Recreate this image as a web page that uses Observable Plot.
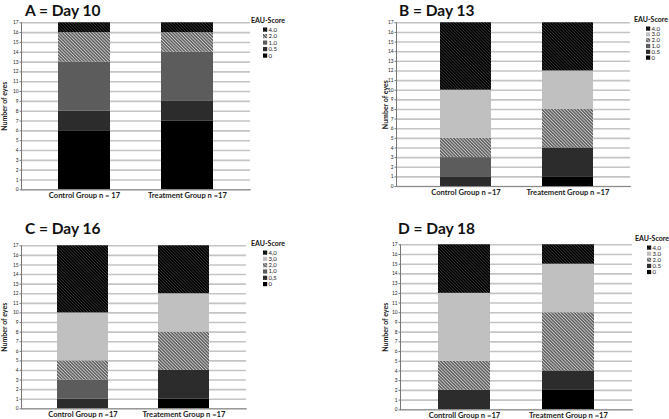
<!DOCTYPE html>
<html><head><meta charset="utf-8">
<script src="https://cdn.jsdelivr.net/npm/d3@7"></script>
<script src="https://cdn.jsdelivr.net/npm/@observablehq/plot@0.6"></script>
<style>
body{margin:0;background:#fff;font-family:Lato,"Open Sans",sans-serif;}
#root{position:relative;width:669px;height:419px;overflow:hidden;background:#fff;}
.panel{position:absolute;}
.title{position:absolute;font-weight:bold;font-size:15.5px;color:#111;white-space:nowrap;line-height:1.2;}
.legend{position:absolute;}
g[aria-label="y-axis label"] text{font-weight:bold;font-size:7px;}
</style></head><body>
<svg width="0" height="0" style="position:absolute">
<defs>
<pattern id="p40" patternUnits="userSpaceOnUse" width="2.2" height="2.2" patternTransform="rotate(45)">
<rect width="2.2" height="2.2" fill="#000"/>
<line x1="0" y1="1.1" x2="2.2" y2="1.1" stroke="#3c3c3c" stroke-width="0.7"/>
</pattern>
<pattern id="p20" patternUnits="userSpaceOnUse" width="2.3" height="2.3" patternTransform="rotate(45)">
<rect width="2.3" height="2.3" fill="#5a5a5a"/>
<line x1="0" y1="1.15" x2="2.3" y2="1.15" stroke="#d0d0d0" stroke-width="0.9"/>
</pattern>
</defs></svg>
<div id="root"></div>
<script>
// ---- data ----
const scores = ["0", "0.5", "1.0", "2.0", "3.0", "4.0"];
const yTicks = [0,1,2,3,4,5,6,7,8,9,10,11,12,13,14,15,16,17];

const titleA = "A = Day 10";
const groupsA = ["Control Group n = 17", "Treatment Group n =17"];
const controlA = [6, 2, 5, 3, 0, 1];
const treatmentA = [7, 2, 5, 2, 0, 1];
const legendScoresA = ["4.0", "2.0", "1.0", "0.5", "0"];
const legendLabelsA = ["4.0", "2.0", "1.0", "0.5", "0"];

const titleB = "B = Day 13";
const groupsB = ["Control Group n =17", "Treatement Group n =17"];
const controlB = [0, 1, 2, 2, 5, 7];
const treatmentB = [1, 3, 0, 4, 4, 5];
const legendScoresB = ["4.0", "3.0", "2.0", "1.0", "0.5", "0"];
const legendLabelsB = ["4.0", "3.0", "2.0", "1.0", "0.5", "0"];

const titleC = "C = Day 16";
const groupsC = ["Control Group n =17", "Treatement Group n =17"];
const controlC = [0, 1, 2, 2, 5, 7];
const treatmentC = [1, 3, 0, 4, 4, 5];
const legendScoresC = ["4.0", "3.0", "2.0", "1.0", "0.5", "0"];
const legendLabelsC = ["4,0", "3,0", "2,0", "1,0", "0,5", "0"];

const titleD = "D = Day 18";
const groupsD = ["Controll Group n =17", "Treatment Group n =17"];
const controlD = [0, 2, 0, 3, 7, 5];
const treatmentD = [2, 2, 0, 6, 5, 2];
const legendScoresD = ["4.0", "3.0", "2.0", "0.5", "0"];
const legendLabelsD = ["4.0", "3.0", "2.0", "0.5", "0"];

const fills = ["#000000", "#2c2c2c", "#5c5c5c", "url(#p20)", "#c0c0c0", "url(#p40)"];

// ---- layout ----
const panels = [
  {title: titleA, groups: groupsA, counts: [controlA, treatmentA], lScores: legendScoresA, lLabels: legendLabelsA,
   left: 0, top: 0, w: 335, h: 210, ml: 21, mr: 85, mt: 22.3, mb: 20.7, xr: [5.5, 264.7], labelOffset: 19,
   tx: 25, ty: 1, lx: 250, ly: 15, lstep: 6.5},
  {title: titleB, groups: groupsB, counts: [controlB, treatmentB], lScores: legendScoresB, lLabels: legendLabelsB,
   left: 335, top: 0, w: 334, h: 210, ml: 61, mr: 39, mt: 22.3, mb: 24, xr: [53.6, 310.4], labelOffset: 13,
   tx: 64, ty: 1, lx: 298, ly: 14, lstep: 5.8},
  {title: titleC, groups: groupsC, counts: [controlC, treatmentC], lScores: legendScoresC, lLabels: legendLabelsC,
   left: 0, top: 210, w: 335, h: 210, ml: 21, mr: 89, mt: 35.3, mb: 11.7, xr: [6, 259.3], labelOffset: 19,
   tx: 25, ty: 9, lx: 250, ly: 28, lstep: 6.3},
  {title: titleD, groups: groupsD, counts: [controlD, treatmentD], lScores: legendScoresD, lLabels: legendLabelsD,
   left: 335, top: 210, w: 334, h: 210, ml: 65, mr: 37, mt: 34.3, mb: 10.7, xr: [50.7, 310.7], labelOffset: 17,
   tx: 63, ty: 9, lx: 299, ly: 23, lstep: 6.1}
];

const root = document.getElementById("root");

panels.forEach(p => {
  const rows = [];
  p.groups.forEach((g, i) => scores.forEach((s, j) => {
    if (p.counts[i][j] > 0) rows.push({group: g, score: s, count: p.counts[i][j]});
  }));

  const chart = Plot.plot({
    width: p.w, height: p.h,
    marginLeft: p.ml, marginRight: p.mr, marginTop: p.mt, marginBottom: p.mb,
    style: {fontFamily: "Lato, 'Open Sans', sans-serif", background: "transparent", color: "#222"},
    x: {domain: p.groups, range: p.xr, paddingInner: 0.5, paddingOuter: 0.5, label: null},
    y: {domain: [0, 17], label: null},
    color: {domain: scores, range: fills},
    marks: [
      Plot.gridY(yTicks, {stroke: "#c4c4c4", strokeOpacity: 1, strokeWidth: 1.6}),
      Plot.barY(rows, Plot.stackY({x: "group", y: "count", fill: "score", order: scores})),
      Plot.frame({anchor: "left", stroke: "#777"}),
      Plot.frame({anchor: "bottom", stroke: "#888"}),
      Plot.axisY(yTicks, {tickSize: 1.5, tickPadding: 1.5, fontSize: 4.8, stroke: "#777",
        label: "Number of eyes", labelAnchor: "center", labelOffset: p.labelOffset,
        labelArrow: "none"}),
      Plot.axisX({tickSize: 0, tickPadding: 3, fontSize: 7.6, fontWeight: "bold", label: null})
    ]
  });

  const wrap = document.createElement("div");
  wrap.className = "panel";
  wrap.style.left = p.left + "px";
  wrap.style.top = p.top + "px";
  wrap.style.width = p.w + "px";
  wrap.style.height = p.h + "px";
  wrap.appendChild(chart);

  const t = document.createElement("div");
  t.className = "title";
  t.style.left = p.tx + "px";
  t.style.top = p.ty + "px";
  t.textContent = p.title;
  wrap.appendChild(t);

  // legend
  const colorOf = d3.scaleOrdinal(scores, fills);
  const lg = d3.create("svg").attr("class", "legend")
    .attr("width", 40).attr("height", 60)
    .style("left", p.lx + "px").style("top", p.ly + "px")
    .style("font-family", "Lato, 'Open Sans', sans-serif");
  lg.append("text").attr("x", 1).attr("y", 8).attr("font-size", 7).attr("font-weight", "bold")
    .attr("fill", "#111").text("EAU-Score");
  p.lScores.forEach((s, i) => {
    const y = 14.5 + i * p.lstep;
    lg.append("rect").attr("x", 13).attr("y", y - 2).attr("width", 4.2).attr("height", 4.2).attr("fill", colorOf(s));
    lg.append("text").attr("x", 18.5).attr("y", y + 2).attr("font-size", 6).attr("fill", "#222").text(p.lLabels[i]);
  });
  wrap.appendChild(lg.node());

  root.appendChild(wrap);
});
</script>
</body></html>
